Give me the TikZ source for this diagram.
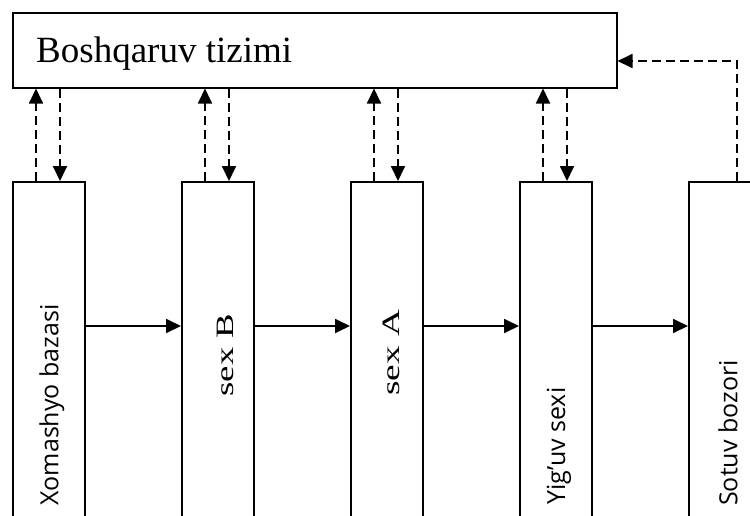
\documentclass[tikz,border=0pt]{standalone}
\usepackage{fontspec}
\setmainfont{Liberation Serif}
\newfontfamily\tnr{Liberation Serif}
\newfontfamily\osans{Open Sans}
\usetikzlibrary{arrows.meta}
\tikzset{
  box/.style={draw, line width=1.5pt, rectangle, inner sep=0pt},
  tip/.style={-{Triangle[length=15pt,width=14pt]}},
  solidarr/.style={tip, line width=1.8pt},
  dasharr/.style={tip, line width=1.8pt, dash pattern=on 9pt off 5pt},
  vlabel/.style={rotate=90, inner sep=0pt, anchor=center},
}
\begin{document}
\begin{tikzpicture}[x=1pt,y=-1pt]
\useasboundingbox (0,0) rectangle (750,515);
% top box
\node[box, minimum width=604pt, minimum height=75pt, anchor=north west] (top) at (12,12) {};
\node[anchor=base west, inner sep=0pt, font=\tnr\fontsize{37}{40}\selectfont] (toptxt) at (36,62) {Boshqaruv tizimi};
% lower boxes
\node[box, minimum width=72pt, minimum height=360pt, anchor=north west] (b1) at (12,181) {};
\node[box, minimum width=72pt, minimum height=360pt, anchor=north west] (b2) at (181,181) {};
\node[box, minimum width=72pt, minimum height=360pt, anchor=north west] (b3) at (350,181) {};
\node[box, minimum width=72pt, minimum height=360pt, anchor=north west] (b4) at (519,181) {};
\node[box, minimum width=72pt, minimum height=360pt, anchor=north west] (b5) at (688,181) {};
% labels
\node[vlabel, font=\osans\fontsize{25}{28}\selectfont] (t1) at (52,405) {Xomashyo bazasi};
\node[vlabel, font=\tnr\fontsize{25}{28}\selectfont] (t2) at (225,355) {\scalebox{1.47}[1]{sex B}};
\node[vlabel, font=\tnr\fontsize{25}{28}\selectfont] (t3) at (391,353) {\scalebox{1.49}[1]{sex A}};
\node[vlabel, font=\osans\fontsize{25}{28}\selectfont] (t4) at (559,446) {Yig’uv sexi};
\node[vlabel, font=\osans\fontsize{25}{28}\selectfont] (t5) at (728,433) {Sotuv bozori};
% horizontal flow
\draw[solidarr] (b1.east |- 0,326) -- (b2.west |- 0,326);
\draw[solidarr] (b2.east |- 0,326) -- (b3.west |- 0,326);
\draw[solidarr] (b3.east |- 0,326) -- (b4.west |- 0,326);
\draw[solidarr] (b4.east |- 0,326) -- (b5.west |- 0,326);
% dashed up/down
\foreach \b in {b1,b2,b3,b4}{
  \draw[dasharr] ([xshift=24pt]\b.north west) -- ([xshift=24pt]\b.north west |- top.south);
  \draw[dasharr] ([xshift=48pt]\b.north west |- top.south) -- ([xshift=48pt]\b.north west);
}
% feedback
\coordinate (fb) at (737,61);
\draw[dasharr] (fb |- b5.north) -- (fb) -- (top.east |- fb);
\end{tikzpicture}
\end{document}
